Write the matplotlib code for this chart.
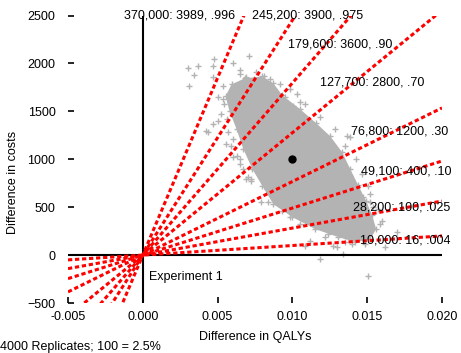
import matplotlib
matplotlib.use("Agg")
import matplotlib.pyplot as plt

plt.rcParams['font.family'] = ['Liberation Sans', 'DejaVu Sans']
plt.rcParams['font.size'] = 9

# willingness-to-pay lines (cost per QALY) and their labels
wtp = [370000, 245200, 179600, 127700, 76800, 49100, 28200, 10000]
wtp_labels = ["370,000: 3989, .996", "245,200: 3900, .975", "179,600: 3600, .90",
              "127,700: 2800, .70", "76,800: 1200, .30", "49,100: 400, .10",
              "28,200: 100, .025", "10,000: 16, .004"]

# outline of the saturated part of the replicate cloud
core_x = [0.00553, 0.00593, 0.0068, 0.0080, 0.00873, 0.00933, 0.01053, 0.0116,
          0.01253, 0.01333, 0.01387, 0.0144, 0.01493, 0.01533, 0.0156, 0.0152,
          0.0142, 0.01307, 0.01153, 0.0100, 0.00873, 0.0080, 0.00733, 0.00673,
          0.00627, 0.0058]
core_y = [1656, 1781, 1844, 1865, 1792, 1667, 1521, 1375, 1240, 1073, 896, 729,
          563, 417, 271, 167, 135, 188, 271, 396, 531, 719, 896, 1104, 1313, 1500]

# scattered replicates around the cloud
rep_x = [0.0030, 0.00367, 0.0034, 0.00307, 0.00473, 0.00467, 0.0060, 0.00707,
         0.00653, 0.00467, 0.00533, 0.0050, 0.0054, 0.00607, 0.0052, 0.00573,
         0.0074, 0.00687, 0.00467, 0.0050, 0.0042, 0.00553, 0.0060, 0.00653,
         0.0070, 0.0072, 0.00433, 0.00567, 0.00587, 0.00633, 0.01033, 0.01053,
         0.01007, 0.00953, 0.00833, 0.00807, 0.0092, 0.01367, 0.01353, 0.01387,
         0.0130, 0.01387, 0.01433, 0.01507, 0.0152, 0.01473, 0.0084, 0.00687,
         0.00987, 0.01087, 0.0112, 0.01187, 0.0124, 0.0130, 0.0134, 0.01273,
         0.0140, 0.01487, 0.01507, 0.0162, 0.0170, 0.0154, 0.01587, 0.00787,
         0.00833, 0.0072, 0.00673,
         0.00653, 0.0076, 0.00853, 0.00987, 0.01087, 0.01187, 0.01287, 0.01427,
         0.01467, 0.0152, 0.01573, 0.0160, 0.01487, 0.01353, 0.0122, 0.01053,
         0.00933, 0.00653, 0.0060, 0.0056, 0.00533]
rep_y = [1948, 1969, 1875, 1760, 2042, 1969, 2000, 2073, 1927, 1854, 1760, 1646,
         1573, 1604, 1469, 1677, 1833, 1854, 1365, 1396, 1292, 1156, 1021, 948,
         813, 771, 1281, 1281, 1135, 1031, 1677, 1594, 1552, 1646, 1750, 1865,
         1781, 1240, 1135, 1229, 1073, 823, 656, 719, 552, 604, 552, 792, 396,
         94, 146, -42, 219, 83, 10, 94, 115, 188, -219, 83, 240, 500, 323, 552,
         688, 792, 896,
         1885, 1906, 1833, 1729, 1573, 1438, 1313, 1000, 844, 635, 479, 354,
         115, 135, 188, 323, 458, 1000, 1208, 1417, 1625]

mean_x = [0.010]
mean_y = [1000]

x_ticks = [-0.005, 0.000, 0.005, 0.010, 0.015, 0.020]
y_ticks = [-500, 0, 500, 1000, 1500, 2000, 2500]


def main():

    fig = plt.figure(figsize=(4.61, 3.53), dpi=100)
    ax = fig.add_axes([0.1475, 0.1416, 0.8113, 0.8144])

    ax.set_xlim(-0.005, 0.020)
    ax.set_ylim(-500, 2500)

    for side in ['left', 'right', 'top', 'bottom']:
        ax.spines[side].set_visible(False)

    ax.set_xticks(x_ticks)
    ax.set_xticklabels(['%.3f' % v for v in x_ticks])
    ax.set_yticks(y_ticks)
    ax.tick_params(direction='in', length=4, width=1.2, color='black')
    ax.tick_params(axis='y', pad=9)
    ax.tick_params(axis='x', pad=6)

    gray = '#b3b3b3'
    ax.fill(core_x, core_y, color=gray, lw=0, zorder=1)
    ax.plot(core_x, core_y, '+', color=gray, ms=5, mew=1, zorder=1)
    ax.plot(rep_x, rep_y, '+', color=gray, ms=5, mew=1, zorder=1)
    ax.plot(mean_x, mean_y, 'o', color='black', ms=5, zorder=5)

    ax.axhline(0, color='black', lw=1.5, zorder=2)
    ax.axvline(0, color='black', lw=1.5, zorder=2)

    xs = [-0.005, 0.020]
    for s in wtp:
        ax.plot(xs, [s * v for v in xs], color='red', lw=2.2,
                ls=(0, (1.4, 0.9)), zorder=3)

    label_pos = [(0.00247, 2500), (0.01103, 2500), (0.0132, 2198), (0.01533, 1802),
                 (0.01717, 1292), (0.01763, 875), (0.01733, 500), (0.01757, 156)]
    for (tx, ty), txt in zip(label_pos, wtp_labels):
        ax.text(tx, ty, txt, ha='center', va='center', zorder=4)

    ax.text(0.0004, -229, "Experiment 1", ha='left', va='center', zorder=4)

    fig.text(0.5531, 1 - 337 / 353, "Difference in QALYs", ha='center', va='center')
    fig.text(13 / 461, 1 - 182 / 353, "Difference in costs", ha='center', va='center',
             rotation=90)
    fig.text(0.001, 1 - 347 / 353, "4000 Replicates; 100 = 2.5%", ha='left',
             va='center')

    fig.savefig('out.png', dpi=100)


if __name__ == '__main__':
    main()
